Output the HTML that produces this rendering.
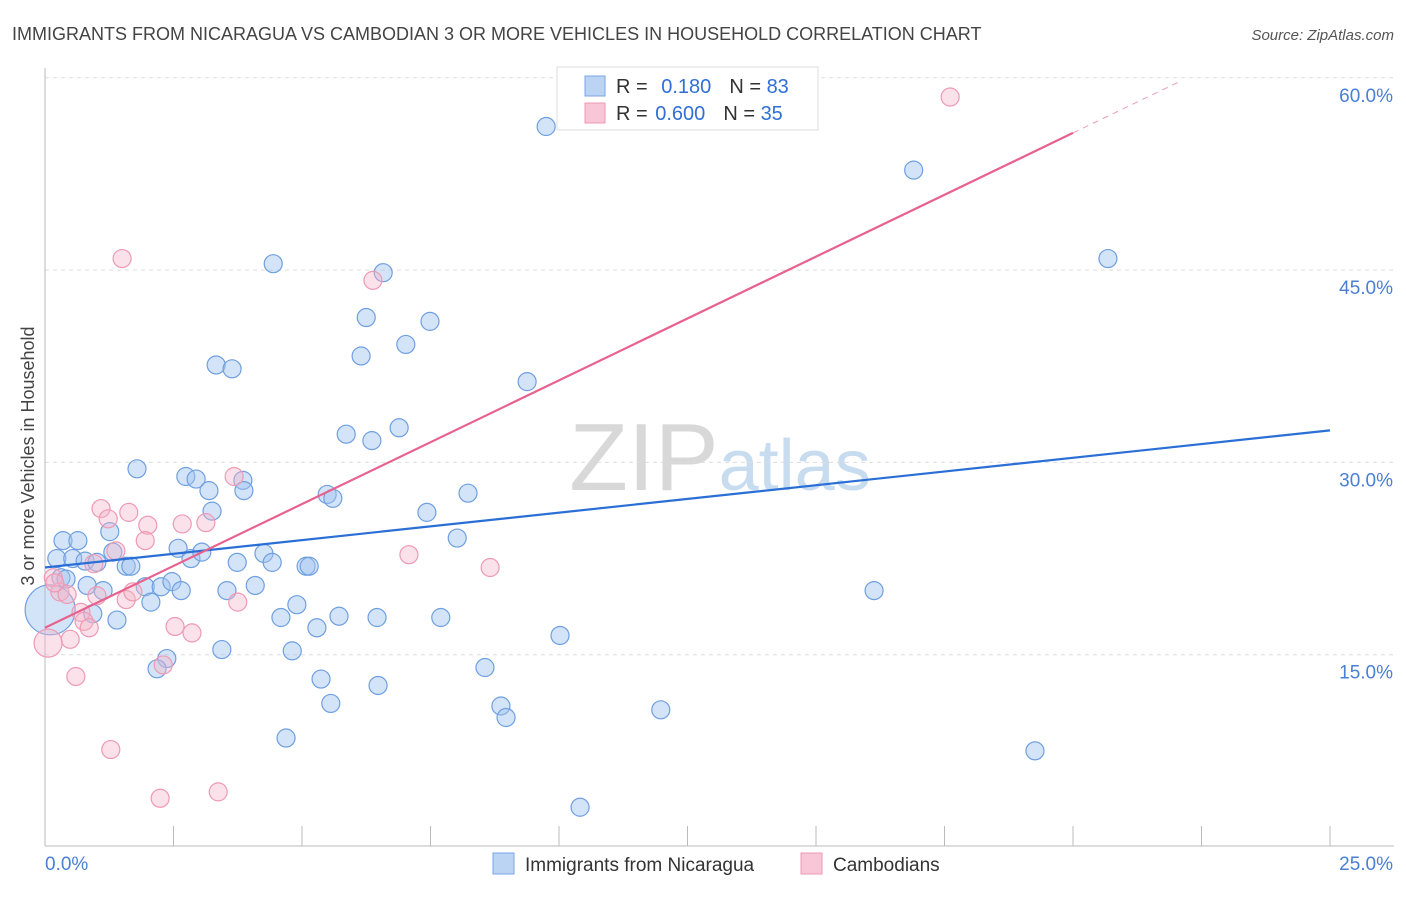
<!DOCTYPE html>
<html><head><meta charset="utf-8"><style>
body{margin:0;background:#fff;font-family:"Liberation Sans",sans-serif;}
svg text{font-family:"Liberation Sans",sans-serif;}
</style></head><body>
<svg id="chart" width="1406" height="892" xmlns="http://www.w3.org/2000/svg">
<text x="12" y="40" font-size="18" fill="#444">IMMIGRANTS FROM NICARAGUA VS CAMBODIAN 3 OR MORE VEHICLES IN HOUSEHOLD CORRELATION CHART</text>
<text x="1394" y="40" font-size="15" fill="#555" text-anchor="end" font-style="italic">Source: ZipAtlas.com</text>
<text x="720" y="490" font-size="96" fill="#ddd" text-anchor="middle" font-family="Liberation Serif"><tspan fill="#d8d8d8">ZIP</tspan><tspan fill="#c8dcf0" font-family="Liberation Sans" font-size="72">atlas</tspan></text>
<g id="grid"></g>
<g id="axes"></g>
<g id="points"></g>
<g id="lines"></g>
<text transform="translate(34,456) rotate(-90)" font-size="18" fill="#444" text-anchor="middle">3 or more Vehicles in Household</text>
<g>
<rect x="557" y="67" width="261" height="63" fill="#fff" stroke="#ddd"/>
<rect x="585" y="76" width="20" height="20" fill="#bcd4f4" stroke="#7aa6e4"/>
<rect x="585" y="103" width="20" height="20" fill="#f8c6d6" stroke="#ee9ab4"/>
<text x="616" y="93" font-size="20" fill="#333">R = <tspan fill="#2f6fd6" dx="8">0.180</tspan><tspan dx="18" fill="#333">N = </tspan><tspan fill="#2f6fd6">83</tspan></text>
<text x="616" y="120" font-size="20" fill="#333">R = <tspan fill="#2f6fd6" dx="2">0.600</tspan><tspan dx="18" fill="#333">N = </tspan><tspan fill="#2f6fd6">35</tspan></text>
</g>
<g>
<rect x="493" y="853" width="21" height="21" fill="#bcd4f4" stroke="#7aa6e4"/>
<text x="525" y="871" font-size="19" fill="#333">Immigrants from Nicaragua</text>
<rect x="801" y="853" width="21" height="21" fill="#f8c6d6" stroke="#ee9ab4"/>
<text x="833" y="871" font-size="19" fill="#333">Cambodians</text>
</g>
</svg>
<script>
const blueX=[9.75,16.9,20.68,4.44,6.58,6.25,7.49,6.15,7.02,3.33,3.64,9.38,5.86,6.36,6.89,1.79,2.74,2.94,3.19,3.85,3.87,3.25,5.49,5.60,8.23,7.43,8.02,0.35,0.64,0.23,0.54,0.78,1.01,1.26,1.32,1.58,1.67,2.59,2.84,3.05,4.26,3.74,4.42,5.08,5.14,0.31,0.41,0.82,1.13,1.95,2.26,2.47,2.65,2.06,3.54,4.09,4.90,0.93,1.40,4.59,5.29,5.72,6.46,7.70,10.02,16.13,2.37,2.18,3.44,4.81,5.37,6.48,8.56,5.56,8.87,8.97,11.98,4.69,19.26,10.41,0.1];
const blueY=[56.2,52.8,45.9,45.5,44.8,41.3,41.0,38.3,39.2,37.6,37.3,36.3,32.2,31.7,32.7,29.5,28.9,28.7,27.8,28.6,27.8,26.2,27.5,27.2,27.6,26.1,24.1,23.9,23.9,22.5,22.5,22.3,22.2,24.6,23.0,21.9,21.9,23.3,22.5,23.0,22.9,22.2,22.2,21.9,21.9,21.0,20.9,20.4,20.0,20.3,20.3,20.7,20.0,19.1,20.0,20.4,18.9,18.2,17.7,17.9,17.1,18.0,17.9,17.9,16.5,20.0,14.7,13.9,15.4,15.3,13.1,12.6,14.0,11.2,11.0,10.1,10.7,8.5,7.5,3.1,18.5];
const pinkX=[17.61,1.50,6.38,3.68,1.09,1.23,1.63,2.0,2.67,3.13,1.95,1.38,0.95,0.16,0.29,0.43,1.58,1.71,3.75,0.70,0.76,0.86,2.53,2.86,0.49,0.06,7.08,8.66,0.60,1.28,2.24,3.37,2.30,0.19,1.01];
const pinkY=[58.5,45.9,44.2,28.9,26.4,25.6,26.1,25.1,25.2,25.3,23.9,23.1,22.1,21.0,19.9,19.7,19.3,19.9,19.1,18.3,17.6,17.1,17.2,16.7,16.2,15.9,22.8,21.8,13.3,7.6,3.8,4.3,14.2,20.6,19.6];
const yTicks=[15,30,45,60];
const xTickVals=[0,2.5,5,7.5,10,12.5,15,17.5,20,22.5,25];
const blueTrend=[21.8,32.5];
const pinkTrend=[17.1,55.7];
const pinkTrendEndX=20;
const pinkDashEndX=22.1;
const X=v=>45+v*51.4, Y=v=>847-v*12.82;
const NS="http://www.w3.org/2000/svg";
function mk(tag,attrs,parent){const e=document.createElementNS(NS,tag);for(const k in attrs)e.setAttribute(k,attrs[k]);document.getElementById(parent).appendChild(e);return e;}
yTicks.forEach(t=>{
 const l=mk('line',{x1:45,x2:1394,y1:Y(t),y2:Y(t),stroke:'#ddd','stroke-dasharray':'4,4'},'grid');
 
 
 const tx=mk('text',{x:1393,y:Y(t)+24,'font-size':19,fill:'#4a7fd4','text-anchor':'end'},'grid');
 tx.textContent=t.toFixed(1)+'%';
 
 
});
const ax=mk('line',{x1:45,x2:45,y1:68,y2:846,stroke:'#bbb'},'axes');


const bx=mk('line',{x1:45,x2:1394,y1:846,y2:846,stroke:'#bbb'},'axes');


xTickVals.forEach(t=>{
 const l=mk('line',{x1:X(t),x2:X(t),y1:826,y2:846,stroke:'#bbb'},'axes');
 
 
});
[[0,'0.0%',45,'start'],[25,'25.0%',1393,'end']].forEach(a=>{
 const tx=mk('text',{x:a[2],y:870,'font-size':19,fill:'#4a7fd4','text-anchor':a[3]},'axes');
 tx.textContent=a[1];
 
 
});
blueX.forEach((v,i)=>{
 const big=i===blueX.length-1;
 const c=mk('circle',{cx:X(v),cy:Y(blueY[i]),r:big?25:9,fill:'rgba(160,196,240,0.45)',stroke:'#6f9fe0','stroke-width':1.2},'points');
 
 
});
pinkX.forEach((v,i)=>{
 const c=mk('circle',{cx:X(v),cy:Y(pinkY[i]),r:i===25?14:9,fill:'rgba(246,180,200,0.4)',stroke:'#ee9ab4','stroke-width':1.2},'points');
 
 
});
const bl=mk('line',{x1:X(0),y1:Y(blueTrend[0]),x2:X(25),y2:Y(blueTrend[1]),stroke:'#2a6fd6','stroke-width':2.2},'lines');


const slope=(pinkTrend[1]-pinkTrend[0])/pinkTrendEndX;
const pl=mk('line',{x1:X(0),y1:Y(pinkTrend[0]),x2:X(pinkTrendEndX),y2:Y(pinkTrend[1]),stroke:'#e8628e','stroke-width':2.2},'lines');


const pd=mk('line',{x1:X(pinkTrendEndX),y1:Y(pinkTrend[1]),x2:X(pinkDashEndX),y2:Y(pinkTrend[0]+slope*pinkDashEndX),stroke:'#e8a0b8','stroke-width':1,'stroke-dasharray':'6,5'},'lines');


</script>
</body></html>
